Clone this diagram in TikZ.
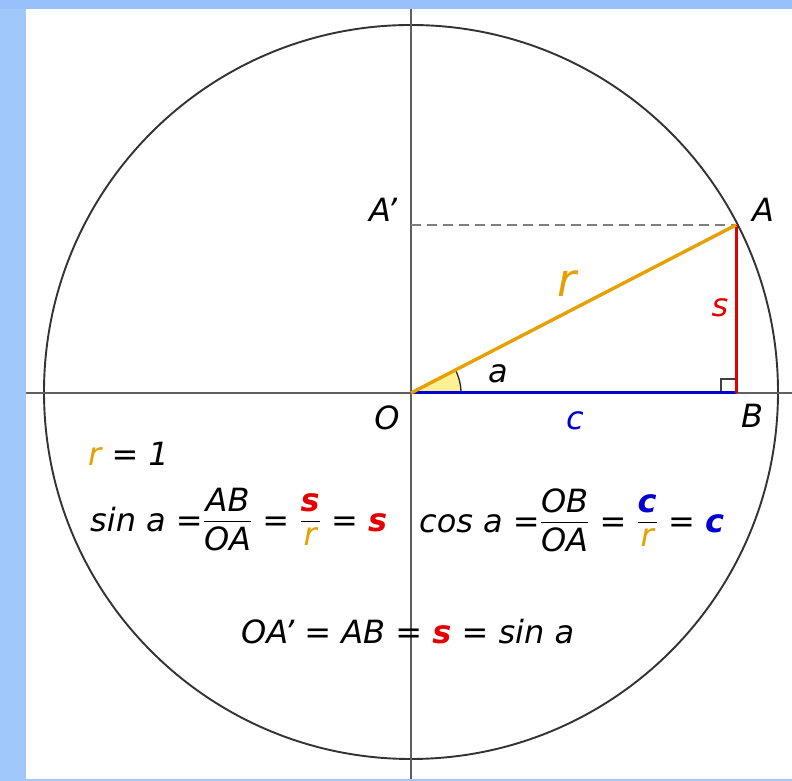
\documentclass[tikz,border=0pt]{standalone}
\usepackage{amsmath}
\usepackage{fontspec}
\usetikzlibrary{calc}
\setmainfont{DejaVu Sans}
\definecolor{orng}{RGB}{230,160,0}
\definecolor{rd}{RGB}{228,0,0}
\definecolor{bl}{RGB}{0,0,210}
\definecolor{bgblue}{RGB}{160,200,250}
\definecolor{bgblue2}{RGB}{152,192,250}
\definecolor{wedge}{RGB}{255,240,150}
\definecolor{axisgray}{RGB}{95,95,95}
\newcommand\fr[2]{\raisebox{4pt}{$\displaystyle\genfrac{}{}{1.3pt}{0}{\mbox{#1}}{\mbox{#2}}$}}
\newcommand\rs{\textcolor{rd}{\bfseries s}}
\newcommand\bc{\textcolor{bl}{\bfseries c}}
\newcommand\orr{\textcolor{orng}{r}}
\begin{document}
\begin{tikzpicture}[x=1pt,y=1pt,
  lbl/.style={inner sep=0pt, anchor=base, font=\fontsize{32}{38}\selectfont\itshape},
  eq/.style={inner sep=0pt, anchor=base west, font=\fontsize{32}{38}\selectfont\itshape},
  axis/.style={draw=axisgray, line width=1.6pt},
  circ/.style={draw=black!80, line width=1.9pt}]
\useasboundingbox (0,0) rectangle (792,781);
\fill[white] (0,0) rectangle (792,781);
\fill[bgblue] (0,0) rectangle (26,781);
\fill[bgblue2] (0,772) rectangle (792,781);
\fill[bgblue] (0,0) rectangle (792,2);
\coordinate (O) at (411,388);
\coordinate (A) at (736,556);
\coordinate (B) at (736,388);
\coordinate (Ap) at (411,556);
\coordinate (xl) at (26,388);
\coordinate (xr) at (792,388);
\coordinate (yt) at (411,772);
\coordinate (yb) at (411,2);
% circle and axes
\draw[circ] (411,389) circle[radius=367];
\draw[axis] (xl) -- (xr);
\draw[axis] (yb) -- (yt);
% dashed projection
\draw[draw=gray, line width=1.5pt, dash pattern=on 10pt off 6pt] (Ap) -- (A);
% angle wedge
\fill[wedge] (O) -- ++(50,0) arc[start angle=0, end angle=27.33, radius=50] -- cycle;
\draw[black!85, line width=1.3pt] ($(O)+(50,0)$) arc[start angle=0, end angle=27.33, radius=50];
% right angle mark
\draw[black!75, line width=1.2pt] ($(B)+(-15,0)$) -- ++(0,14) -- ++(15,0);
% triangle sides
\draw[bl, line width=3pt] (O) -- (B);
\draw[rd, line width=3pt] (A) -- (B);
\draw[orng, line width=3.4pt] (O) -- (A);
% labels
\node[lbl] (lAp) at (383,559) {A’};
\node[lbl] (lA) at (763,559) {A};
\node[lbl, font=\fontsize{46}{52}\selectfont\itshape, text=orng] (lr) at (567,484) {r};
\node[lbl, text=rd] (ls) at (720,464) {s};
\node[lbl] (la) at (498,398) {a};
\node[lbl] (lO) at (387,351) {O};
\node[lbl, text=bl] (lc) at (575,351) {c};
\node[lbl] (lB) at (752,353) {B};
% equations
\node[eq] (e1) at (88,315) {\orr{} = 1};
\node[eq] (e2) at (90,249) {sin a =\fr{AB}{OA} = \fr{\rs}{\orr} = \rs};
\node[eq] (e3) at (419,248) {cos a =\fr{OB}{OA} = \fr{\bc}{\orr} = \bc};
\node[eq] (e4) at (241,137) {OA’ = AB = \rs{} = sin a};
\end{tikzpicture}
\end{document}
